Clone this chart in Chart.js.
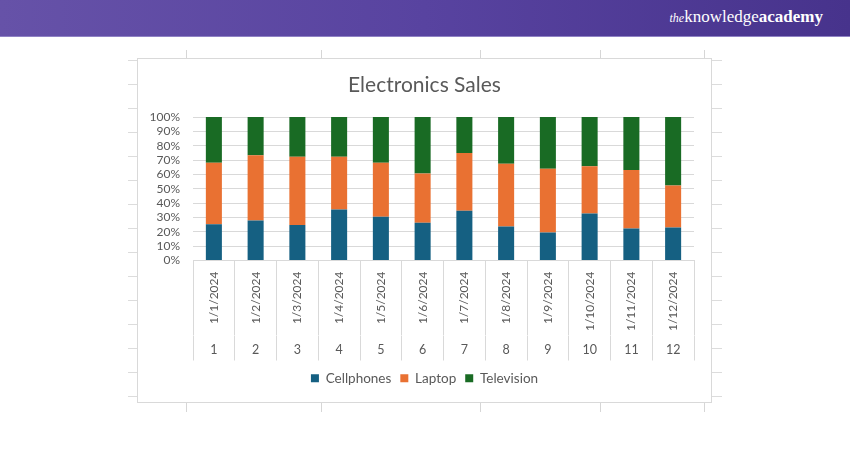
<!DOCTYPE html>
<html>
<head>
<meta charset="utf-8">
<script src="https://cdn.jsdelivr.net/npm/chart.js@4/dist/chart.umd.min.js"></script>
<style>
  html, body { margin: 0; padding: 0; background: #ffffff; }
  body { width: 850px; height: 450px; position: relative; overflow: hidden; font-family: Lato, "Open Sans", sans-serif; }
  #header { position: absolute; left: 0; top: 0; width: 850px; height: 36px;
    background: linear-gradient(90deg, #6652a8 0%, #5843a0 50%, #47338c 100%);
    border-bottom: 1px solid #8f82c4; }
  #logo { position: absolute; right: 27px; top: 7px; color: #ffffff; font-family: "Liberation Serif", "DejaVu Serif", serif; font-size: 17px; }
  #logo .the { font-style: italic; font-size: 12px; }
  #logo .ac { font-weight: bold; }
  .hl { position: absolute; height: 1px; background: #dcdcdc; }
  .vl { position: absolute; width: 1px; background: #d6d6d6; }
  #wrap { position: absolute; left: 137px; top: 58px; width: 575px; height: 345px; box-sizing: border-box; border: 1px solid #d9d9d9; background: #fff; }
  #wrap canvas { display: block; }
</style>
</head>
<body>
<div id="header"><div id="logo"><span class="the">the</span>knowledge<span class="ac">academy</span></div></div>
<div id="sheet"></div>
<div id="wrap"><canvas id="c" width="573" height="343"></canvas></div>
<script>
// ---- data ----
const dateLabels = ["1/1/2024","1/2/2024","1/3/2024","1/4/2024","1/5/2024","1/6/2024","1/7/2024","1/8/2024","1/9/2024","1/10/2024","1/11/2024","1/12/2024"];
const indexLabels = ["1","2","3","4","5","6","7","8","9","10","11","12"];
const cellphones = [25.3, 27.9, 24.7, 35.6, 30.5, 26.3, 34.7, 23.7, 19.5, 32.8, 22.3, 23.0];
const laptop     = [42.8, 45.4, 47.6, 36.7, 37.6, 34.4, 40.2, 43.7, 44.5, 32.8, 40.7, 29.3];
const television = [31.9, 26.7, 27.7, 27.7, 31.9, 39.3, 25.1, 32.6, 36.0, 34.4, 37.0, 47.7];
const yTicks = [0, 10, 20, 30, 40, 50, 60, 70, 80, 90, 100];

// faint spreadsheet cell lines around the chart (decoration)
(function(){
  const sheet = document.getElementById('sheet');
  for (let y = 60; y <= 400; y += 24) {
    const a = document.createElement('div'); a.className = 'hl';
    a.style.left = '128px'; a.style.top = y + 'px'; a.style.width = '9px'; sheet.appendChild(a);
    const b = document.createElement('div'); b.className = 'hl';
    b.style.left = '712px'; b.style.top = y + 'px'; b.style.width = '10px'; sheet.appendChild(b);
  }
  [186, 321, 480, 600, 704].forEach(x => {
    const t = document.createElement('div'); t.className = 'vl';
    t.style.left = x + 'px'; t.style.top = '50px'; t.style.height = '8px'; sheet.appendChild(t);
    const u = document.createElement('div'); u.className = 'vl';
    u.style.left = x + 'px'; u.style.top = '403px'; u.style.height = '9px'; sheet.appendChild(u);
  });
})();

const textColor = '#595959';
const gridColor = '#d9d9d9';
const fontFamily = 'Lato, "Open Sans", sans-serif';

new Chart(document.getElementById('c'), {
  type: 'bar',
  data: {
    labels: dateLabels,
    datasets: [
      { label: 'Cellphones', data: cellphones, backgroundColor: '#156082' },
      { label: 'Laptop', data: laptop, backgroundColor: '#E97132' },
      { label: 'Television', data: television, backgroundColor: '#196B24' }
    ]
  },
  options: {
    responsive: false,
    animation: false,
    maintainAspectRatio: false,
    categoryPercentage: 0.8,
    barPercentage: 0.48,
    layout: { padding: { left: 0, right: 0, top: 0, bottom: 7 } },
    plugins: {
      title: {
        display: true, text: 'Electronics Sales', color: textColor,
        font: { family: fontFamily, size: 21, weight: 'normal' },
        padding: { top: 14, bottom: 18.8 }
      },
      legend: {
        position: 'bottom',
        labels: { color: textColor, boxWidth: 8, boxHeight: 8, padding: 9,
          font: { family: fontFamily, size: 13.5 } }
      },
      tooltip: { enabled: false }
    },
    scales: {
      x: {
        type: 'category', stacked: true, offset: true, weight: 0,
        grid: { offset: true, drawOnChartArea: false, drawTicks: true, tickLength: 75, color: gridColor },
        border: { display: true, color: gridColor },
        ticks: { autoSkip: false, minRotation: 90, maxRotation: 90, padding: -64, color: textColor,
          font: { family: fontFamily, size: 12 } },
        afterFit: (s) => { s.height = 75; }
      },
      x2: {
        type: 'category', labels: indexLabels, position: 'bottom', offset: true, weight: 1,
        grid: { offset: true, drawOnChartArea: false, drawTicks: true, tickLength: 25, color: gridColor },
        border: { display: false },
        ticks: { autoSkip: false, maxRotation: 0, minRotation: 0, padding: -18, color: textColor,
          font: { family: fontFamily, size: 12.5 } },
        afterFit: (s) => { s.height = 27; }
      },
      y: {
        stacked: true, min: 0, max: 100,
        grid: { color: gridColor, drawTicks: false },
        border: { display: false },
        afterBuildTicks: (s) => { s.ticks = yTicks.map(v => ({ value: v })); },
        ticks: { autoSkip: false, padding: 13, color: textColor, font: { family: fontFamily, size: 12 },
          callback: (v) => v + '%' },
        afterFit: (s) => { s.width = 55; }
      },
      yRight: {
        type: 'linear', position: 'right', min: 0, max: 100,
        grid: { display: false, drawTicks: false },
        border: { display: false },
        ticks: { display: false },
        afterFit: (s) => { s.width = 17; }
      }
    }
  }
});
</script>
</body>
</html>
